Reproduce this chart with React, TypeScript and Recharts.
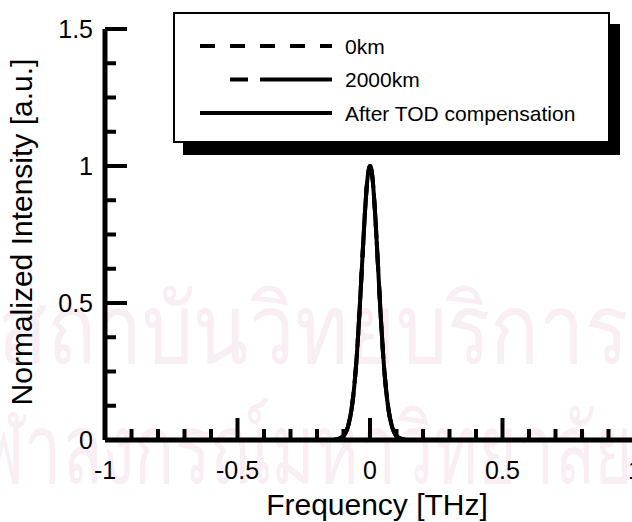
import React from "react";
import { LineChart, Line, XAxis, YAxis, Legend } from "recharts";

// frequency grid [THz] and normalized spectra
const freq = [
  -1, -0.2, -0.14, -0.12, -0.1, -0.09, -0.08, -0.07, -0.06, -0.05, -0.04, -0.03, -0.02, -0.01,
  0, 0.01, 0.02, 0.03, 0.04, 0.05, 0.06, 0.07, 0.08, 0.09, 0.1, 0.12, 0.14, 0.2, 1,
];
const km0 = [
  0, 0, 0, 0.004, 0.015, 0.03, 0.06, 0.11, 0.19, 0.305, 0.46, 0.64, 0.815, 0.95,
  1, 0.95, 0.815, 0.64, 0.46, 0.305, 0.19, 0.11, 0.06, 0.03, 0.015, 0.004, 0, 0, 0,
];
const km2000 = [
  0, 0, 0, 0.004, 0.015, 0.03, 0.06, 0.11, 0.19, 0.305, 0.46, 0.64, 0.815, 0.95,
  1, 0.95, 0.815, 0.64, 0.46, 0.305, 0.19, 0.11, 0.06, 0.03, 0.015, 0.004, 0, 0, 0,
];
const afterTod = [
  0, 0, 0, 0.004, 0.015, 0.03, 0.06, 0.11, 0.19, 0.305, 0.46, 0.64, 0.815, 0.95,
  1, 0.95, 0.815, 0.64, 0.46, 0.305, 0.19, 0.11, 0.06, 0.03, 0.015, 0.004, 0, 0, 0,
];

const xTicks = [-1, -0.9, -0.8, -0.7, -0.6, -0.5, -0.4, -0.3, -0.2, -0.1, 0, 0.1, 0.2, 0.3, 0.4, 0.5, 0.6, 0.7, 0.8, 0.9, 1];
const yTicks = [0, 0.125, 0.25, 0.375, 0.5, 0.625, 0.75, 0.875, 1, 1.125, 1.25, 1.375, 1.5];

const seriesNames = ["0km", "2000km", "After TOD compensation"];

const rows = freq.map((f, i) => ({ f, a: km0[i], b: km2000[i], c: afterTod[i] }));

const FONT = "'Liberation Sans', Arial, sans-serif";
const isMajor = (v: number) => Math.abs(v * 2 - Math.round(v * 2)) < 1e-6;
const fmt = (v: number) => String(v);

function BottomTick({ x, y, payload }: any) {
  const v = payload.value;
  const major = isMajor(v);
  return (
    <g>
      <line x1={x} y1={y} x2={x} y2={y - (major ? 22 : 11)} stroke="#000" strokeWidth={4} />
      {major && (
        <text x={x} y={y + 39} textAnchor="middle" fontSize={25} fontFamily={FONT} fill="#000">
          {fmt(v)}
        </text>
      )}
    </g>
  );
}

function TopTick({ x, y, payload }: any) {
  const major = isMajor(payload.value);
  return <line x1={x} y1={y} x2={x} y2={y + (major ? 22 : 11)} stroke="#000" strokeWidth={4} />;
}

function LeftTick({ x, y, payload }: any) {
  const v = payload.value;
  const major = isMajor(v);
  return (
    <g>
      <line x1={x} y1={y} x2={x + (major ? 22 : 11)} y2={y} stroke="#000" strokeWidth={4} />
      {major && (
        <text x={x - 12} y={y} dy="0.36em" textAnchor="end" fontSize={25} fontFamily={FONT} fill="#000">
          {fmt(v)}
        </text>
      )}
    </g>
  );
}

function RightTick({ x, y, payload }: any) {
  const major = isMajor(payload.value);
  return <line x1={x} y1={y} x2={x - (major ? 22 : 11)} y2={y} stroke="#000" strokeWidth={4} />;
}

const dashes = ["15 15", "0 30 18 12 80", undefined];

function LegendBox() {
  return (
    <div
      style={{
        width: 433,
        height: 127,
        border: "2px solid #000",
        background: "#fff",
        boxShadow: "10px 12px 0 #000",
      }}
    >
      <svg width={433} height={127} style={{ display: "block" }}>
        {seriesNames.map((name, i) => {
          const y = 32 + i * 33.5;
          return (
            <g key={name}>
              <line x1={25} x2={157} y1={y} y2={y} stroke="#000" strokeWidth={4} strokeDasharray={dashes[i]} />
              <text x={170} y={y} dy="0.36em" fontSize={21} fontFamily={FONT} fill="#000">
                {name}
              </text>
            </g>
          );
        })}
      </svg>
    </div>
  );
}

export default function App() {
  const axisLine = { stroke: "#000", strokeWidth: 5 };
  return (
    <div style={{ position: "absolute", left: 0, top: 0, width: 632, height: 522, overflow: "hidden", background: "#fff" }}>
      {/* faint library stamp behind the plot */}
      <div
        style={{
          position: "absolute",
          left: 0,
          top: 0,
          width: 632,
          color: "#f9eef4",
          whiteSpace: "nowrap",
          pointerEvents: "none",
        }}
      >
        <div style={{ position: "absolute", left: -2, top: 252, fontSize: 92, transformOrigin: "0 0", transform: "scale(0.88, 1.05)" }}>
          สถาบันวิทยบริการ
        </div>
        <div style={{ position: "absolute", left: -60, top: 372, fontSize: 92, transformOrigin: "0 0", transform: "scale(0.72, 1.05)" }}>
          จุฬาลงกรณ์มหาวิทยาลัย
        </div>
      </div>
      <div style={{ position: "absolute", left: 0, top: 0 }}>
        <LineChart width={640} height={522} data={rows} margin={{ top: 29, right: 5, bottom: 0, left: 0 }}>
          <XAxis
            xAxisId="b"
            dataKey="f"
            type="number"
            domain={[-1, 1]}
            ticks={xTicks}
            interval={0}
            tick={<BottomTick />}
            tickLine={false}
            tickSize={0}
            tickMargin={0}
            axisLine={axisLine}
            height={82}
            allowDataOverflow
          />
          <XAxis
            xAxisId="t"
            orientation="top"
            dataKey="f"
            type="number"
            domain={[-1, 1]}
            ticks={xTicks}
            interval={0}
            tick={<TopTick />}
            tickLine={false}
            tickSize={0}
            tickMargin={0}
            axisLine={axisLine}
            height={0}
            allowDataOverflow
          />
          <YAxis
            yAxisId="l"
            type="number"
            domain={[0, 1.5]}
            ticks={yTicks}
            interval={0}
            tick={<LeftTick />}
            tickLine={false}
            tickSize={0}
            tickMargin={0}
            axisLine={axisLine}
            width={105}
            allowDataOverflow
          />
          <YAxis
            yAxisId="r"
            orientation="right"
            type="number"
            domain={[0, 1.5]}
            ticks={yTicks}
            interval={0}
            tick={<RightTick />}
            tickLine={false}
            tickSize={0}
            tickMargin={0}
            axisLine={axisLine}
            width={0}
            allowDataOverflow
          />
          <Line xAxisId="b" yAxisId="l" dataKey="a" type="monotone" stroke="#000" strokeWidth={4} strokeDasharray="15 15" dot={false} isAnimationActive={false} />
          <Line xAxisId="b" yAxisId="l" dataKey="b" type="monotone" stroke="#000" strokeWidth={4} strokeDasharray="30 12" dot={false} isAnimationActive={false} />
          <Line xAxisId="b" yAxisId="l" dataKey="c" type="monotone" stroke="#000" strokeWidth={4} dot={false} isAnimationActive={false} />
          <Legend
            layout="horizontal"
            verticalAlign="middle"
            align="center"
            content={() => <LegendBox />}
            wrapperStyle={{ position: "absolute", left: 173, top: 12, width: 437, height: 131 }}
          />
        </LineChart>
      </div>
      <div
        style={{
          position: "absolute",
          left: 377,
          top: 505,
          transform: "translate(-50%, -50%)",
          fontFamily: FONT,
          fontSize: 30,
          whiteSpace: "nowrap",
          color: "#000",
        }}
      >
        Frequency [THz]
      </div>
      <div
        style={{
          position: "absolute",
          left: 22,
          top: 232,
          transform: "translate(-50%, -50%) rotate(-90deg)",
          fontFamily: FONT,
          fontSize: 30,
          whiteSpace: "nowrap",
          color: "#000",
        }}
      >
        Normalized Intensity [a.u.]
      </div>
    </div>
  );
}
